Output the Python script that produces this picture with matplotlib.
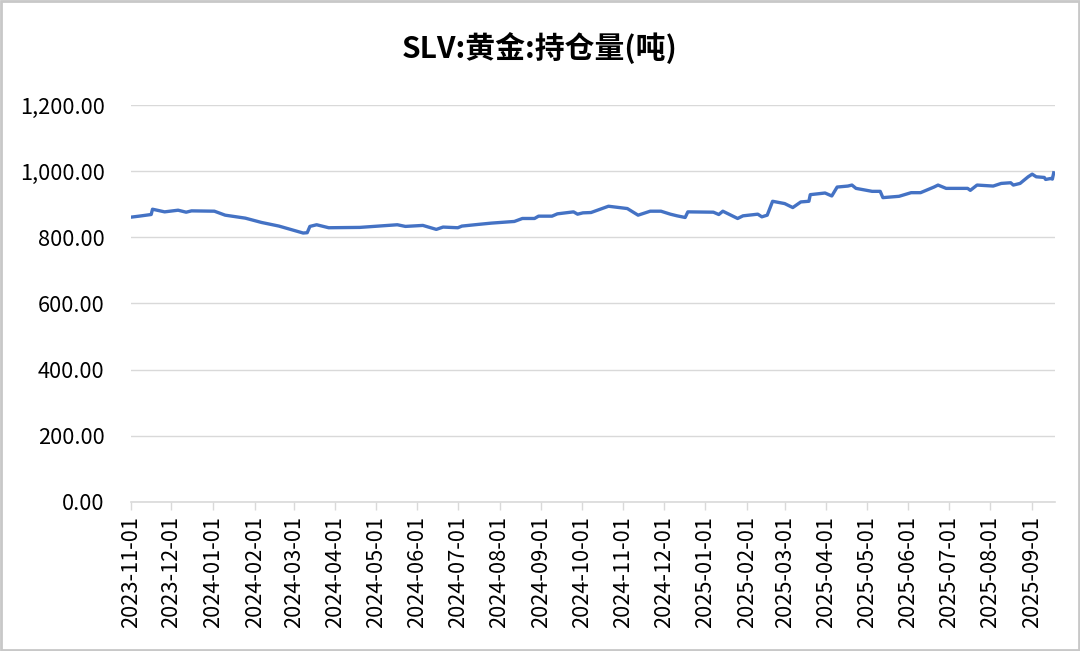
import matplotlib
matplotlib.use("Agg")
import matplotlib.pyplot as plt
import matplotlib.dates as mdates
from matplotlib.ticker import FuncFormatter
from matplotlib.patches import Rectangle
import pandas as pd

plt.rcParams['font.family'] = ['Noto Sans CJK SC', 'DejaVu Sans']

title = "SLV:黄金:持仓量(吨)"

dates = [
    "2023-11-01", "2023-11-07", "2023-11-16", "2023-11-17", "2023-11-26", "2023-12-06",
    "2023-12-12", "2023-12-16", "2024-01-02", "2024-01-10", "2024-01-25", "2024-02-06",
    "2024-02-19", "2024-03-08", "2024-03-11", "2024-03-13", "2024-03-18", "2024-03-27",
    "2024-04-19", "2024-05-17", "2024-05-23", "2024-06-05", "2024-06-15", "2024-06-20",
    "2024-07-01", "2024-07-04", "2024-07-16", "2024-07-26", "2024-08-12", "2024-08-18",
    "2024-08-27", "2024-08-30", "2024-09-09", "2024-09-13", "2024-09-25", "2024-09-28",
    "2024-10-02", "2024-10-08", "2024-10-21", "2024-11-04", "2024-11-12", "2024-11-21",
    "2024-11-29", "2024-12-06", "2024-12-11", "2024-12-17", "2024-12-19", "2025-01-07",
    "2025-01-11", "2025-01-14", "2025-01-20", "2025-01-25", "2025-01-29", "2025-02-09",
    "2025-02-12", "2025-02-16", "2025-02-20", "2025-03-01", "2025-03-07", "2025-03-13",
    "2025-03-19", "2025-03-20", "2025-03-31", "2025-04-05", "2025-04-09", "2025-04-17",
    "2025-04-20", "2025-04-23", "2025-05-05", "2025-05-11", "2025-05-13", "2025-05-25",
    "2025-06-03", "2025-06-10", "2025-06-20", "2025-06-23", "2025-06-29", "2025-07-15",
    "2025-07-17", "2025-07-22", "2025-08-03", "2025-08-09", "2025-08-16", "2025-08-18",
    "2025-08-23", "2025-08-29", "2025-09-01", "2025-09-04", "2025-09-10", "2025-09-11",
    "2025-09-15", "2025-09-16", "2025-09-17",
]
holdings = [
    861, 864, 869, 885, 877, 882,
    876, 880, 879, 867, 858, 845,
    834, 813, 814, 833, 838, 829,
    830, 838, 833, 836, 824, 831,
    829, 834, 839, 843, 848, 857,
    857, 864, 864, 871, 877, 870,
    874, 875, 894, 887, 867, 879,
    879, 870, 865, 860, 877, 876,
    869, 879, 867, 857, 865, 870,
    862, 867, 909, 902, 890, 907,
    909, 929, 934, 925, 952, 955,
    958, 948, 939, 939, 920, 924,
    935, 935, 952, 958, 948, 948,
    942, 958, 955, 963, 965, 958,
    963, 983, 991, 983, 981, 975,
    978, 976, 995,
]
y_ticks = [0, 200, 400, 600, 800, 1000, 1200]

x = pd.to_datetime(dates)

fig = plt.figure(figsize=(10.8, 6.51), dpi=100)
ax = fig.add_axes([0.1213, 0.2289, 0.8556, 0.6098])

ax.plot(x, holdings, color="#4472C4", linewidth=2.4, solid_joinstyle="round")

ax.set_ylim(0, 1200)
ax.set_yticks(y_ticks)
ax.yaxis.set_major_formatter(FuncFormatter(lambda v, p: f"{v:,.2f}"))
ax.set_xlim(pd.Timestamp("2023-11-01"), pd.Timestamp("2025-09-18"))
ax.xaxis.set_major_locator(mdates.MonthLocator())
ax.xaxis.set_major_formatter(mdates.DateFormatter("%Y-%m-%d"))

ax.grid(axis="y", color="#d9d9d9", linewidth=1.0)
ax.set_axisbelow(True)
for s in ["top", "right", "left"]:
    ax.spines[s].set_visible(False)
ax.spines["bottom"].set_color("#d9d9d9")
ax.spines["bottom"].set_linewidth(1.2)

ax.tick_params(axis="y", length=0, labelsize=15.7, pad=19, colors="#000000")
ax.tick_params(axis="x", direction="out", length=6, width=1.0, color="#d9d9d9",
               labelsize=15.7, labelrotation=90, pad=4)

fig.text(0.5, 0.926, title, ha="center", va="center", fontsize=21.5, fontweight="bold")

fig.patches.append(Rectangle((0.001, 0.0015), 0.998, 0.997, transform=fig.transFigure,
                             fill=False, edgecolor="#c8c8c8", linewidth=2.0))

fig.savefig("out.png", dpi=100)
